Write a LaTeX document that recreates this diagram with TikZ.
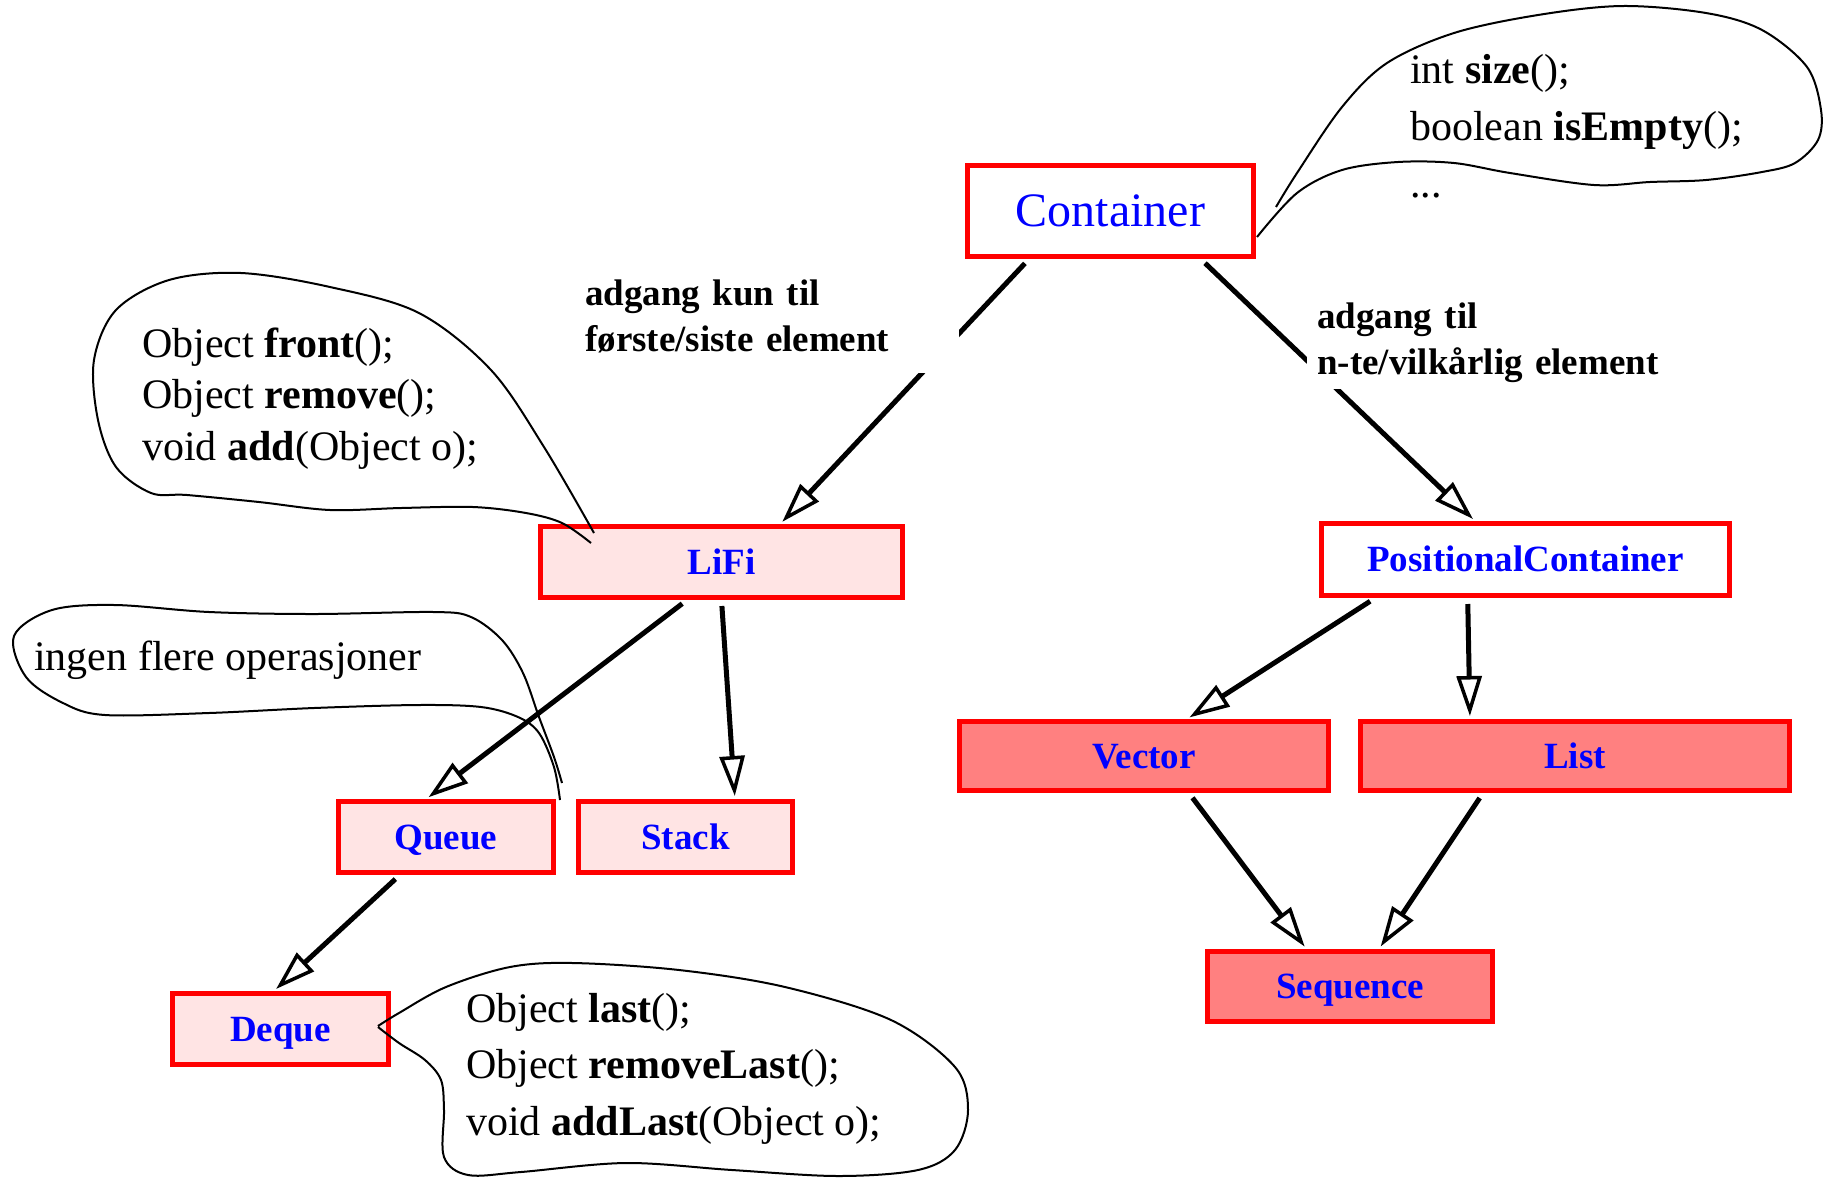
\documentclass[tikz,border=0pt]{standalone}
\usepackage{fontspec}
\setmainfont{Liberation Serif}
\usetikzlibrary{arrows.meta,calc}
\definecolor{lightpink}{RGB}{255,228,228}
\definecolor{salmonbox}{RGB}{255,128,128}
\begin{document}
\begin{tikzpicture}[x=1pt,y=-1pt,
  box/.style={draw=red, line width=5pt, inner sep=0pt, text=blue,
    text height=24.5pt, text depth=0pt,
    font=\fontsize{37}{44}\selectfont\bfseries},
  pinkbox/.style={box, fill=lightpink},
  redbox/.style={box, fill=salmonbox},
  whitebox/.style={box, fill=white},
  inh/.style={draw=black, line width=5pt, shorten <=6pt, shorten >=3pt,
    -{Triangle[fill=white, length=40pt, width=25pt, line width=3.5pt]}},
  elab/.style={font=\fontsize{37}{46}\selectfont\bfseries, align=left, fill=white, anchor=base west},
  btext/.style={font=\fontsize{42}{52}\selectfont, align=left, anchor=base west, inner sep=0pt},
  bubble/.style={draw=black, line width=2pt, line join=round}
]
\useasboundingbox (0,0) rectangle (1828,1179);

% boxes
\node[whitebox, minimum width=286pt, minimum height=91pt, text height=31.5pt,
  font=\fontsize{48}{56}\selectfont] (cont) at (1110.5,211) {Container};
\node[pinkbox, minimum width=362pt, minimum height=71pt] (lifi) at (721.5,562) {LiFi};
\node[whitebox, minimum width=408pt, minimum height=72pt] (pc) at (1525.5,559.5) {PositionalContainer};
\node[redbox, minimum width=369pt, minimum height=69pt] (vec) at (1144,756) {Vector};
\node[redbox, minimum width=429pt, minimum height=69pt] (lst) at (1575,756) {List};
\node[pinkbox, minimum width=215pt, minimum height=71pt] (queue) at (446,837) {Queue};
\node[pinkbox, minimum width=214pt, minimum height=71pt] (stack) at (685.5,837) {Stack};
\node[pinkbox, minimum width=216pt, minimum height=71pt] (deque) at (280.5,1029) {Deque};
\node[redbox, minimum width=285pt, minimum height=70pt] (seq) at (1350,986.5) {Sequence};

% connectors
\draw[inh] ($(cont.south west)!.22!(cont.south east)$) -- ($(lifi.north west)!.66!(lifi.north east)$);
\draw[inh] ($(cont.south west)!.81!(cont.south east)$) -- ($(pc.north west)!.378!(pc.north east)$);
\draw[inh] ($(lifi.south west)!.406!(lifi.south east)$) -- ($(queue.north west)!.41!(queue.north east)$);
\draw[inh] ($(lifi.south west)!.50!(lifi.south east)$) -- ($(stack.north west)!.726!(stack.north east)$);
\draw[inh] ($(queue.south west)!.29!(queue.south east)$) -- ($(deque.north west)!.47!(deque.north east)$);
\draw[inh] ($(pc.south west)!.136!(pc.south east)$) -- ($(vec.north west)!.615!(vec.north east)$);
\draw[inh] ($(pc.south west)!.36!(pc.south east)$) -- ($(lst.north west)!.258!(lst.north east)$);
\draw[inh] ($(vec.south west)!.62!(vec.south east)$) -- ($(seq.north west)!.35!(seq.north east)$);
\draw[inh] ($(lst.south west)!.288!(lst.south east)$) -- ($(seq.north west)!.60!(seq.north east)$);

% edge labels
\node[elab, inner xsep=6pt, inner ysep=20pt, text width=368pt] (lab1) at (579,305)
  {adgang kun til\\første/siste element};
\node[elab, inner xsep=10pt, inner ysep=7pt, text width=345pt] (lab2) at (1307,328)
  {adgang til\\n-te/vilkårlig element};

% callout texts (anchored at the baseline of the last line)
\node[btext, font=\fontsize{42}{57}\selectfont] (t1) at (1410,197)
  {int \textbf{size}();\\boolean \textbf{isEmpty}();\\...};
\node[btext, font=\fontsize{42}{51.5}\selectfont] (t2) at (142,460)
  {Object \textbf{front}();\\Object \textbf{remove}();\\void \textbf{add}(Object o);};
\node[btext] (t3) at (34,670) {ingen flere operasjoner};
\node[btext, font=\fontsize{42}{56.5}\selectfont] (t4) at (466,1135)
  {Object \textbf{last}();\\Object \textbf{removeLast}();\\void \textbf{addLast}(Object o);};

% callout outlines
\draw[bubble] plot[smooth, tension=0.55] coordinates {
  (1276,207) (1297,173) (1342,107) (1387,63) (1454,33) (1538,15) (1622,6)
  (1706,13) (1762,30) (1807,67) (1821,110) (1818,140) (1795,163) (1762,172)
  (1706,180) (1650,182) (1594,185) (1510,173) (1454,163) (1398,162)
  (1342,170) (1297,193) (1257,237)};
\draw[bubble] plot[smooth, tension=0.55] coordinates {
  (594,533) (544,447) (491,370) (419,313) (330,287) (241,273) (169,280)
  (116,310) (94,360) (98,420) (116,467) (151,493) (187,495) (259,502)
  (330,510) (401,508) (473,507) (526,513) (562,523) (591,543)};
\draw[bubble] plot[smooth, tension=0.55] coordinates {
  (562,783) (554,757) (539,717) (523,673) (502,640) (471,617) (434,612)
  (314,614) (209,612) (115,605) (52,610) (14,636) (26,677) (63,703)
  (105,715) (209,713) (314,708) (418,705) (481,707) (518,717) (539,733)
  (554,767) (560,800)};
\draw[bubble] plot[smooth, tension=0.55] coordinates {
  (378,1026) (399,1013) (446,987) (510,967) (573,963) (679,970) (785,987)
  (891,1020) (955,1067) (968,1110) (955,1150) (918,1170) (838,1176)
  (732,1170) (626,1163) (521,1172) (468,1175) (444,1157) (444,1110)
  (441,1080) (425,1060) (399,1043) (378,1027)};
\end{tikzpicture}
\end{document}
